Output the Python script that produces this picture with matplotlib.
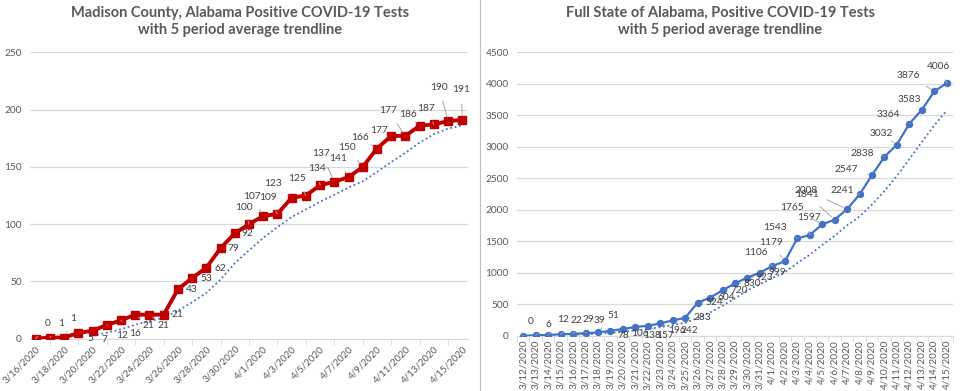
import matplotlib
matplotlib.use("Agg")
import matplotlib.pyplot as plt
from matplotlib.lines import Line2D
import numpy as np
import pandas as pd

plt.rcParams['font.family'] = ['Lato', 'DejaVu Sans']

# ---------------- data ----------------
madison_dates = ["3/16/2020", "3/17/2020", "3/18/2020", "3/19/2020", "3/20/2020", "3/21/2020",
                 "3/22/2020", "3/23/2020", "3/24/2020", "3/25/2020", "3/26/2020", "3/27/2020",
                 "3/28/2020", "3/29/2020", "3/30/2020", "3/31/2020", "4/1/2020", "4/2/2020",
                 "4/3/2020", "4/4/2020", "4/5/2020", "4/6/2020", "4/7/2020", "4/8/2020",
                 "4/9/2020", "4/10/2020", "4/11/2020", "4/12/2020", "4/13/2020", "4/14/2020",
                 "4/15/2020"]
madison_cases = [0, 1, 1, 5, 7, 12, 16, 21, 21, 21, 43, 53, 62, 79, 92, 100, 107, 109, 123, 125,
                 134, 137, 141, 150, 166, 177, 177, 186, 187, 190, 191]

state_dates = ["3/12/2020", "3/13/2020", "3/14/2020", "3/15/2020", "3/16/2020", "3/17/2020",
               "3/18/2020", "3/19/2020", "3/20/2020", "3/21/2020", "3/22/2020", "3/23/2020",
               "3/24/2020", "3/25/2020", "3/26/2020", "3/27/2020", "3/28/2020", "3/29/2020",
               "3/30/2020", "3/31/2020", "4/1/2020", "4/2/2020", "4/3/2020", "4/4/2020",
               "4/5/2020", "4/6/2020", "4/7/2020", "4/8/2020", "4/9/2020", "4/10/2020",
               "4/11/2020", "4/12/2020", "4/13/2020", "4/14/2020", "4/15/2020"]
state_cases = [0, 6, 12, 22, 29, 39, 51, 78, 106, 138, 157, 196, 242, 283, 524, 604, 720, 830,
               923, 999, 1106, 1179, 1543, 1597, 1765, 1841, 2008, 2241, 2547, 2838, 3032, 3364,
               3583, 3876, 4006]

left_title = "Madison County, Alabama Positive COVID-19 Tests\nwith 5 period average trendline"
right_title = "Full State of Alabama, Positive COVID-19 Tests\nwith 5 period average trendline"

# label offsets in screen pixels (dx right, dy down) -- layout only
madison_label_off = [(12, -15), (11, -14), (9, -19), (12, 6), (12, 9), (15, 11), (14, 13),
                     (13, 11), (14, 11), (14, 0), (14, 0), (14, 1), (14, 1), (13, 0), (13, 0),
                     (-5, -17), (-11, -20), (-10, -16), (-19, -14), (-9, -17), (-3, -17),
                     (-13, -28), (-10, -19), (-16, -19), (-17, -11), (-12, -5), (-17, -25),
                     (-12, -11), (-8, -16), (-9, -34), (-1, -30)]
state_label_off = [(7, -14), (13, -11), (15, -15), (16, -14), (15, -14), (14, -13), (15, -17),
                   (13, 5), (17, 4), (17, 9), (17, 10), (17, 7), (17, 10), (17, 0), (17, 0),
                   (16, 0), (17, 0), (17, 0), (17, 0), (17, 0), (-16, -13), (-14, -19),
                   (-22, -11), (-1, -18), (-30, -17), (-28, -25), (-41, -19), (-17, -4),
                   (-26, -6), (-22, -3), (-16, -11), (-21, -9), (-13, -10), (-26, -16),
                   (-8, -17)]

TEXT = '#595959'
LABEL = '#404040'
GRID = '#D9D9D9'
RED = '#C00000'
BLUE = '#4472C4'

fig = plt.figure(figsize=(9.6, 3.91), dpi=100)

def style_axes(ax):
    for s in ['top', 'right', 'left']:
        ax.spines[s].set_visible(False)
    ax.spines['bottom'].set_color(GRID)
    ax.grid(axis='y', color=GRID, lw=0.9)
    ax.set_axisbelow(True)
    ax.tick_params(axis='y', length=0, labelsize=7.3, labelcolor=TEXT, pad=6)
    ax.tick_params(axis='x', color=GRID, labelcolor=TEXT, labelsize=7)


def add_labels(ax, xs, ys, offs):
    for x, y, (dx, dy) in zip(xs, ys, offs):
        d = np.hypot(dx, dy)
        kw = {}
        if d > 15:
            kw['arrowprops'] = dict(arrowstyle='-', color='#A6A6A6', lw=0.7,
                                    shrinkA=5, shrinkB=3)
        ax.annotate(str(y), xy=(x, y), xytext=(dx, -dy), textcoords='offset pixels',
                    ha='center', va='center', fontsize=7.3, color=LABEL, **kw)


# ---------------- left chart ----------------
axL = fig.add_axes([30 / 960, 52.3 / 391, 438 / 960, 286.4 / 391])
style_axes(axL)
xl = np.arange(len(madison_cases))
ma_l = pd.Series(madison_cases).rolling(5).mean()
axL.plot(xl, ma_l, color=BLUE, lw=1.3, ls=(0, (1, 1.5)), zorder=2)
axL.plot(xl, madison_cases, color=RED, lw=2.8, marker='s', ms=5.5, zorder=3)
add_labels(axL, xl, madison_cases, madison_label_off)
axL.set_ylim(0, 250)
axL.set_yticks(np.arange(0, 251, 50))
axL.set_xlim(-0.4, len(xl) - 0.6)
axL.set_xticks(xl[::2])
axL.set_xticklabels(madison_dates[::2], rotation=45, ha='right', rotation_mode='anchor')
axL.set_xticks(xl[1::2], minor=True)
axL.tick_params(axis='x', which='major', length=0, pad=4)
axL.tick_params(axis='x', which='minor', length=4, color=GRID)

# ---------------- right chart ----------------
axR = fig.add_axes([517 / 960, 55.3 / 391, 436 / 960, 283.7 / 391])
style_axes(axR)
xr = np.arange(len(state_cases))
ma_r = pd.Series(state_cases).rolling(5).mean()
axR.plot(xr, ma_r, color=BLUE, lw=1.3, ls=(0, (1, 1.5)), zorder=2)
axR.plot(xr, state_cases, color=BLUE, lw=1.6, marker='o', ms=4.3, zorder=3)
add_labels(axR, xr, state_cases, state_label_off)
axR.set_ylim(0, 4500)
axR.set_yticks(np.arange(0, 4501, 500))
axR.set_xlim(-0.5, len(xr) - 0.5)
axR.set_xticks(xr)
axR.set_xticklabels(state_dates, rotation=90, fontsize=7.2)
axR.set_xticks(np.arange(-0.5, len(xr), 1), minor=True)
axR.tick_params(axis='x', which='major', length=0, pad=3)
axR.tick_params(axis='x', which='minor', length=4, color=GRID)

# titles
fig.text(0.25, 0.985, left_title, ha='center', va='top', fontsize=10.5, fontweight='bold',
         color=TEXT, linespacing=1.3)
fig.text(0.75, 0.985, right_title, ha='center', va='top', fontsize=10.5, fontweight='bold',
         color=TEXT, linespacing=1.3)

# separator between the two chart areas
fig.add_artist(Line2D([0.5, 0.5], [0, 1], transform=fig.transFigure, color='#BFBFBF', lw=0.8))

fig.savefig('out.png', dpi=100)
